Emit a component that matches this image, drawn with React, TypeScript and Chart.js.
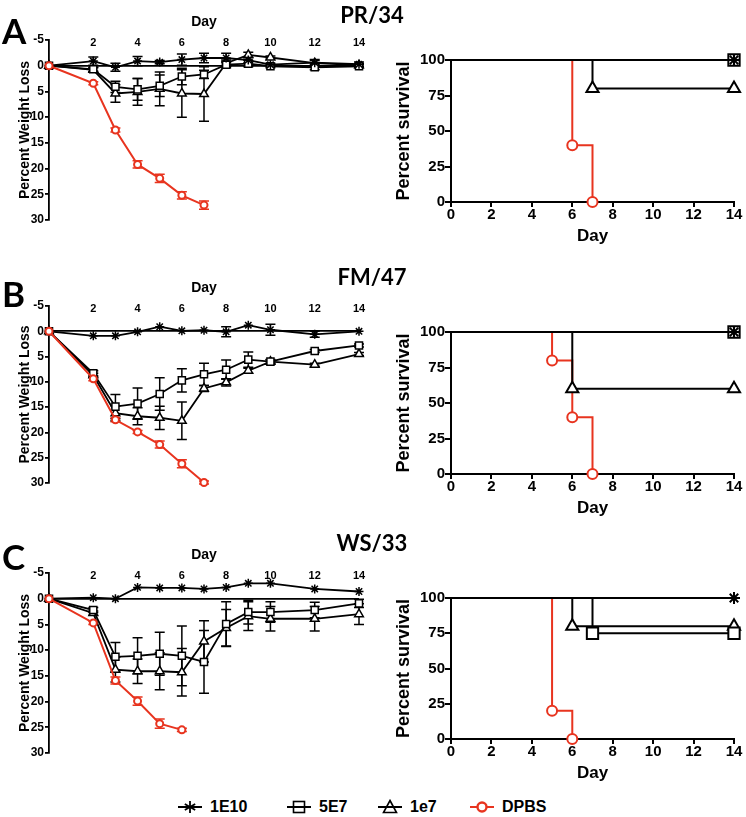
import React, { useEffect, useRef } from 'react';
import { Chart, registerables } from 'chart.js';
Chart.register(...registerables);

const FONT = "'Liberation Sans', Arial, sans-serif";
const TFONT = "Lato, 'Liberation Sans', sans-serif";
const RED = '#E8341F';
const BLACK = '#000000';

// ---------- Weight loss data (percent) ----------
const DAYS = [0, 2, 3, 4, 5, 6, 7, 8, 9, 10, 12, 14];
const DAYS_DPBS_A = [0, 2, 3, 4, 5, 6, 7];
const DAYS_DPBS_B = [0, 2, 3, 4, 5, 6, 7];
const DAYS_DPBS_C = [0, 2, 3, 4, 5, 6];
const WEIGHT_TICKS_Y = [-5, 0, 5, 10, 15, 20, 25, 30];

const A_1E10 = [0, -0.9, 0.3, -0.9, -0.7, -1.2, -1.5, -1.5, -1.1, -0.2, -0.6, -0.3];
const A_1E10_ERR = [0, 0.8, 0.8, 0.9, 0.3, 1.1, 0.9, 0.9, 0.5, 0.3, 0.6, 0.4];
const A_5E7 = [0, 0.7, 4.1, 4.6, 3.9, 2.1, 1.7, -0.2, -0.4, 0.1, 0.3, 0.1];
const A_5E7_ERR = [0, 0.4, 1.1, 2.1, 2.1, 1.6, 0.8, 0.6, 0.6, 0.3, 0.5, 0.3];
const A_1e7 = [0, 0.8, 5.4, 5.1, 4.5, 5.4, 5.5, -0.5, -2.1, -1.6, -0.5, -0.1];
const A_1e7_ERR = [0, 0.4, 1.7, 2.6, 3.3, 4.6, 5.3, 0.6, 0.5, 0.3, 0.5, 0.3];
const A_DPBS = [0, 3.4, 12.5, 19.2, 21.9, 25.2, 27.1];
const A_DPBS_ERR = [0, 0.3, 0.4, 0.7, 0.8, 0.7, 0.8];

const B_1E10 = [0, 0.9, 0.9, 0.1, -0.9, -0.1, -0.2, 0.1, -1.2, -0.3, 0.6, 0];
const B_1E10_ERR = [0, 0, 0, 0, 0, 0, 0, 1.0, 0, 1.1, 0.6, 0];
const B_5E7 = [0, 8.3, 14.9, 14.3, 12.4, 9.7, 8.5, 7.6, 5.6, 6.0, 3.9, 2.8];
const B_5E7_ERR = [0, 0.5, 2.4, 3.1, 3.2, 2.3, 2.2, 1.9, 1.5, 0.4, 0.3, 0.3];
const B_1e7 = [0, 8.7, 16.2, 16.8, 17.1, 17.7, 11.3, 10.1, 7.8, 6.0, 6.6, 4.5];
const B_1e7_ERR = [0, 0.4, 1.5, 1.7, 2.3, 3.7, 0.6, 0.7, 0.5, 0.3, 0.3, 0.3];
const B_DPBS = [0, 9.4, 17.5, 19.9, 22.4, 26.2, 29.9];
const B_DPBS_ERR = [0, 0.4, 0.4, 0.3, 0.7, 0.8, 0.3];

const C_1E10 = [0, -0.2, 0, -2.2, -2.1, -2.1, -1.9, -2.2, -3.0, -3.0, -1.9, -1.4];
const C_1E10_ERR = [0, 0, 0, 0, 0, 0, 0, 0, 0, 0, 0, 0];
const C_5E7 = [0, 2.2, 11.3, 11.1, 10.7, 11.1, 12.3, 4.9, 2.6, 2.6, 2.2, 0.9];
const C_5E7_ERR = [0, 0.5, 2.8, 3.5, 4.2, 5.8, 6.1, 4.3, 2.3, 2.0, 1.5, 0.8];
const C_1e7 = [0, 2.8, 13.8, 14.1, 14.1, 14.3, 8.3, 5.7, 3.4, 3.9, 3.9, 3.0];
const C_1e7_ERR = [0, 0.4, 2.4, 2.4, 3.6, 4.6, 4.0, 3.6, 2.8, 2.4, 2.4, 2.0];
const C_DPBS = [0, 4.7, 15.9, 19.9, 24.3, 25.5];
const C_DPBS_ERR = [0, 0.3, 0.7, 0.8, 0.9, 0.3];

// ---------- Survival data (percent) ----------
const SA_1E10_X = [0, 14];
const SA_1E10_Y = [100, 100];
const SA_5E7_X = [0, 14];
const SA_5E7_Y = [100, 100];
const SA_1e7_X = [0, 7, 14];
const SA_1e7_Y = [100, 80, 80];
const SA_DPBS_X = [0, 6, 7];
const SA_DPBS_Y = [100, 40, 0];

const SB_1E10_X = [0, 14];
const SB_1E10_Y = [100, 100];
const SB_5E7_X = [0, 14];
const SB_5E7_Y = [100, 100];
const SB_1e7_X = [0, 6, 14];
const SB_1e7_Y = [100, 60, 60];
const SB_DPBS_X = [0, 5, 6, 7];
const SB_DPBS_Y = [100, 80, 40, 0];

const SC_1E10_X = [0, 14];
const SC_1E10_Y = [100, 100];
const SC_5E7_X = [0, 7, 14];
const SC_5E7_Y = [100, 75, 75];
const SC_1e7_X = [0, 6, 14];
const SC_1e7_Y = [100, 80, 80];
const SC_DPBS_X = [0, 5, 6];
const SC_DPBS_Y = [100, 20, 0];

const LEGEND_LABELS = ['1E10', '5E7', '1e7', 'DPBS'];

// ---------- helpers ----------
const errorBars = {
  id: 'errorBars',
  beforeDatasetsDraw(chart: any) {
    const { ctx } = chart;
    const xs = chart.scales.x;
    const ys = chart.scales.y;
    chart.data.datasets.forEach((ds: any, i: number) => {
      if (!ds.errors || !chart.isDatasetVisible(i)) return;
      ctx.save();
      ctx.strokeStyle = ds.borderColor;
      ctx.lineWidth = 1.5;
      ds.data.forEach((p: any, j: number) => {
        const e = ds.errors[j];
        if (!e) return;
        const px = xs.getPixelForValue(p.x);
        const a = ys.getPixelForValue(p.y - e);
        const b = ys.getPixelForValue(p.y + e);
        ctx.beginPath();
        ctx.moveTo(px, a);
        ctx.lineTo(px, b);
        ctx.moveTo(px - 5, a);
        ctx.lineTo(px + 5, a);
        ctx.moveTo(px - 5, b);
        ctx.lineTo(px + 5, b);
        ctx.stroke();
      });
      ctx.restore();
    });
  },
};

function wSeries(label: string, days: number[], vals: number[], errs: number[], style: string, color: string, radius: number, width: number) {
  return {
    label,
    data: days.map((d, i) => ({ x: d, y: vals[i] })),
    errors: errs,
    borderColor: color,
    backgroundColor: '#ffffff',
    borderWidth: width,
    pointStyle: style,
    pointRadius: radius,
    pointBorderColor: color,
    pointBackgroundColor: '#ffffff',
    pointBorderWidth: style === 'circle' ? 2 : 1.5,
    tension: 0,
    clip: false,
  };
}

function sSeries(label: string, xs: number[], ys: number[], style: string, color: string, radius: number) {
  return {
    label,
    data: xs.map((x, i) => ({ x, y: ys[i] })),
    stepped: 'before',
    borderColor: color,
    backgroundColor: '#ffffff',
    borderWidth: 2,
    pointStyle: style,
    pointRadius: xs.map((_, i) => (i === 0 ? 0 : radius)),
    pointBorderColor: color,
    pointBackgroundColor: '#ffffff',
    pointBorderWidth: 2,
    clip: false,
  };
}

const tickFont = (size: number) => ({ family: FONT, size, weight: 'bold' as const });

function weightOptions() {
  return {
    animation: false,
    responsive: false,
    maintainAspectRatio: false,
    devicePixelRatio: 1,
    layout: { padding: { left: 0, top: 0, right: 14, bottom: 15 } },
    plugins: { legend: { display: false }, tooltip: { enabled: false } },
    scales: {
      x: {
        type: 'linear',
        position: 'top',
        min: 0,
        max: 14,
        ticks: {
          stepSize: 2,
          mirror: true,
          padding: -3.6,
          color: BLACK,
          font: tickFont(11),
          callback: (v: any) => (v === 0 ? '' : String(v)),
        },
        grid: { display: false, drawTicks: false },
        border: { display: false },
        title: {
          display: true,
          text: 'Day',
          color: BLACK,
          font: tickFont(14),
          padding: { top: 13.6, bottom: 0 },
        },
        afterFit: (s: any) => {
          s.height = 40;
        },
      },
      y: {
        type: 'linear',
        reverse: true,
        min: -5,
        max: 30,
        afterBuildTicks: (s: any) => {
          s.ticks = WEIGHT_TICKS_Y.map((v) => ({ value: v }));
        },
        ticks: { padding: 1, color: BLACK, font: tickFont(12) },
        grid: {
          color: (c: any) => (c.tick && c.tick.value === 0 ? BLACK : 'rgba(0,0,0,0)'),
          tickColor: BLACK,
          lineWidth: 1.8,
          tickLength: 4,
          drawOnChartArea: true,
        },
        border: { display: true, color: BLACK, width: 1.8 },
        title: {
          display: true,
          text: 'Percent Weight Loss',
          color: BLACK,
          font: tickFont(14),
          padding: { top: 17, bottom: 0 },
        },
        afterFit: (s: any) => {
          s.width = 49;
        },
      },
    },
  };
}

function survivalOptions() {
  return {
    animation: false,
    responsive: false,
    maintainAspectRatio: false,
    devicePixelRatio: 1,
    layout: { padding: { left: 0, top: 20, right: 12, bottom: 0 } },
    plugins: { legend: { display: false }, tooltip: { enabled: false } },
    scales: {
      x: {
        type: 'linear',
        position: 'bottom',
        min: 0,
        max: 14,
        ticks: { stepSize: 2, padding: -1, color: BLACK, font: tickFont(15) },
        grid: { display: true, drawOnChartArea: false, tickLength: 5, color: BLACK, lineWidth: 2 },
        border: { display: true, color: BLACK, width: 2 },
        title: {
          display: true,
          text: 'Day',
          color: BLACK,
          font: tickFont(17),
          padding: { top: 0, bottom: 0.8 },
        },
        afterFit: (s: any) => {
          s.height = 45;
        },
      },
      y: {
        type: 'linear',
        min: 0,
        max: 100,
        ticks: { stepSize: 25, padding: 0, color: BLACK, font: tickFont(15) },
        grid: { display: true, drawOnChartArea: false, tickLength: 6, color: BLACK, lineWidth: 2 },
        border: { display: true, color: BLACK, width: 2 },
        title: {
          display: true,
          text: 'Percent survival',
          color: BLACK,
          font: tickFont(18),
          padding: { top: 20, bottom: 0 },
        },
        afterFit: (s: any) => {
          s.width = 78;
        },
      },
    },
  };
}

function ChartCanvas({ left, top, width, height, build }: any) {
  const ref = useRef<HTMLCanvasElement | null>(null);
  useEffect(() => {
    if (!ref.current) return;
    const chart = new Chart(ref.current, build());
    return () => chart.destroy();
  }, []);
  return (
    <canvas
      ref={ref}
      width={width}
      height={height}
      style={{ position: 'absolute', left, top, width, height }}
    />
  );
}

function weightChart(d1e10: number[], e1e10: number[], d5e7: number[], e5e7: number[], d1e7: number[], e1e7: number[], dDays: number[], dpbs: number[], edpbs: number[]) {
  return () => ({
    type: 'line',
    data: {
      datasets: [
        wSeries('DPBS', dDays, dpbs, edpbs, 'circle', RED, 3.5, 2),
        wSeries('1E10', DAYS, d1e10, e1e10, 'star', BLACK, 4.5, 1.8),
        wSeries('5E7', DAYS, d5e7, e5e7, 'rect', BLACK, 5, 1.8),
        wSeries('1e7', DAYS, d1e7, e1e7, 'triangle', BLACK, 5, 1.8),
      ],
    },
    options: weightOptions(),
    plugins: [errorBars],
  });
}

function survivalChart(a: number[][], b: number[][], c: number[][], d: number[][]) {
  return () => ({
    type: 'line',
    data: {
      datasets: [
        sSeries('1E10', a[0], a[1], 'star', BLACK, 6),
        sSeries('5E7', b[0], b[1], 'rect', BLACK, 8),
        sSeries('1e7', c[0], c[1], 'triangle', BLACK, 7),
        sSeries('DPBS', d[0], d[1], 'circle', RED, 5),
      ],
    },
    options: survivalOptions(),
  });
}

function LegendIcon({ kind }: { kind: string }) {
  const color = kind === 'circle' ? RED : BLACK;
  const line = <line x1="0" y1="8" x2="24" y2="8" stroke={color} strokeWidth="2" />;
  let marker: any = null;
  if (kind === 'star') {
    marker = (
      <g stroke={BLACK} strokeWidth="1.8">
        <line x1="12" y1="2" x2="12" y2="14" />
        <line x1="6.8" y1="5" x2="17.2" y2="11" />
        <line x1="6.8" y1="11" x2="17.2" y2="5" />
      </g>
    );
    return (
      <svg width="24" height="16">
        {line}
        {marker}
      </svg>
    );
  }
  if (kind === 'rect') {
    marker = <rect x="6.5" y="2.5" width="11" height="11" fill="#fff" stroke={BLACK} strokeWidth="1.6" />;
    return (
      <svg width="24" height="16">
        {marker}
        {line}
      </svg>
    );
  }
  if (kind === 'triangle') {
    marker = <polygon points="12,1.5 18.5,13.5 5.5,13.5" fill="#fff" stroke={BLACK} strokeWidth="1.6" />;
    return (
      <svg width="24" height="16">
        {marker}
        {line}
      </svg>
    );
  }
  marker = <circle cx="12" cy="8" r="4.5" fill="#fff" stroke={RED} strokeWidth="2.4" />;
  return (
    <svg width="24" height="16">
      {line}
      {marker}
    </svg>
  );
}

const panelLetter = (text: string, top: number) => (
  <div
    style={{
      position: 'absolute',
      left: 2,
      top,
      fontFamily: TFONT,
      fontWeight: 'bold',
      fontSize: 35,
      lineHeight: 1,
      color: BLACK,
    }}
  >
    {text}
  </div>
);

const panelTitle = (text: string, top: number) => (
  <div
    style={{
      position: 'absolute',
      left: 272,
      width: 200,
      top,
      textAlign: 'center',
      fontFamily: TFONT,
      fontWeight: 'bold',
      fontSize: 22,
      lineHeight: 1,
      color: BLACK,
    }}
  >
    {text}
  </div>
);

export default function App() {
  const legendItems = [
    { kind: 'star', label: LEGEND_LABELS[0], x: 178 },
    { kind: 'rect', label: LEGEND_LABELS[1], x: 287 },
    { kind: 'triangle', label: LEGEND_LABELS[2], x: 378 },
    { kind: 'circle', label: LEGEND_LABELS[3], x: 470 },
  ];
  return (
    <div style={{ position: 'absolute', left: 0, top: 0, width: 746, height: 817, background: '#fff', overflow: 'hidden' }}>
      <ChartCanvas left={0} top={0} width={373} height={235}
        build={weightChart(A_1E10, A_1E10_ERR, A_5E7, A_5E7_ERR, A_1e7, A_1e7_ERR, DAYS_DPBS_A, A_DPBS, A_DPBS_ERR)} />
      <ChartCanvas left={0} top={266} width={373} height={232}
        build={weightChart(B_1E10, B_1E10_ERR, B_5E7, B_5E7_ERR, B_1e7, B_1e7_ERR, DAYS_DPBS_B, B_DPBS, B_DPBS_ERR)} />
      <ChartCanvas left={0} top={533} width={373} height={235}
        build={weightChart(C_1E10, C_1E10_ERR, C_5E7, C_5E7_ERR, C_1e7, C_1e7_ERR, DAYS_DPBS_C, C_DPBS, C_DPBS_ERR)} />

      <ChartCanvas left={373} top={40} width={373} height={207}
        build={survivalChart([SA_1E10_X, SA_1E10_Y], [SA_5E7_X, SA_5E7_Y], [SA_1e7_X, SA_1e7_Y], [SA_DPBS_X, SA_DPBS_Y])} />
      <ChartCanvas left={373} top={312} width={373} height={207}
        build={survivalChart([SB_1E10_X, SB_1E10_Y], [SB_5E7_X, SB_5E7_Y], [SB_1e7_X, SB_1e7_Y], [SB_DPBS_X, SB_DPBS_Y])} />
      <ChartCanvas left={373} top={578} width={373} height={206}
        build={survivalChart([SC_1E10_X, SC_1E10_Y], [SC_5E7_X, SC_5E7_Y], [SC_1e7_X, SC_1e7_Y], [SC_DPBS_X, SC_DPBS_Y])} />

      {panelLetter('A', 13)}
      {panelLetter('B', 276)}
      {panelLetter('C', 539)}
      {panelTitle('PR/34', 4)}
      {panelTitle('FM/47', 266)}
      {panelTitle('WS/33', 532)}

      {legendItems.map((it) => (
        <div key={it.label} style={{ position: 'absolute', left: it.x, top: 797, height: 20, display: 'flex', alignItems: 'center' }}>
          <LegendIcon kind={it.kind} />
          <span style={{ marginLeft: 8, fontFamily: FONT, fontWeight: 'bold', fontSize: 16, lineHeight: '20px', color: BLACK }}>
            {it.label}
          </span>
        </div>
      ))}
    </div>
  );
}
